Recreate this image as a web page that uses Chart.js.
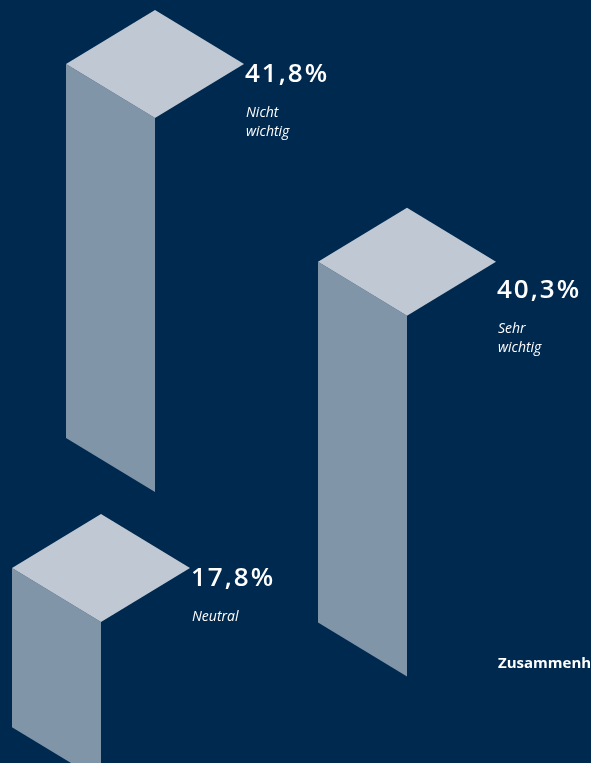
<!DOCTYPE html>
<html lang="de">
<head>
<meta charset="utf-8">
<title>Wichtigkeit</title>
<script src="https://cdn.jsdelivr.net/npm/chart.js@4.4.1/dist/chart.umd.min.js"></script>
<style>
  html, body { margin: 0; padding: 0; background: #00294f; }
  #wrap { position: relative; width: 591px; height: 763px; overflow: hidden; }
</style>
</head>
<body>
<div id="wrap"><canvas id="chart"></canvas></div>
<script>
// ---- data ----
const categories   = ['Nicht wichtig', 'Sehr wichtig', 'Neutral'];
const shares       = [41.8, 40.3, 17.8];
const valueLabels  = ['41,8%', '40,3%', '17,8%'];
const captionLines = [['Nicht', 'wichtig'], ['Sehr', 'wichtig'], ['Neutral']];
const footnote     = 'Zusammenhalt';

// ---- layout ----
const columnX     = [110.5, 362.5, 56.5];  // column centres on the x axis
const columnFloor = [36.3, 15.7, 4.0];     // floor level of each column (y axis units)
const labelDrop   = [18, 36, 18];          // value label baseline below the lid corner
const Y_MAX = 85.25;
const COLUMN_WIDTH = 89;
const LID_SLOPE = 54 / 89;

// ---- styles ----
const BG   = '#00294f';
const LID  = '#c0c9d3';
const SIDE = '#8195a9';
const TEXT = '#ffffff';
const FONT = "'Open Sans', 'DejaVu Sans', sans-serif";

const prismPlugin = {
  id: 'prisms',
  afterDatasetsDraw(chart) {
    const ctx = chart.ctx;
    const meta = chart.getDatasetMeta(0);
    ctx.save();
    meta.data.forEach((bar, i) => {
      const w = bar.width;
      const rise = w * LID_SLOPE;
      const xl = bar.x - w / 2, xm = bar.x + w / 2, xr = xm + w;
      const top = bar.y, bottom = bar.base;

      // front (lit) side
      ctx.fillStyle = SIDE;
      ctx.beginPath();
      ctx.moveTo(xl, top);
      ctx.lineTo(xm, top + rise);
      ctx.lineTo(xm, bottom + rise);
      ctx.lineTo(xl, bottom);
      ctx.closePath();
      ctx.fill();

      // lid
      ctx.fillStyle = LID;
      ctx.beginPath();
      ctx.moveTo(xl, top);
      ctx.lineTo(xm, top - rise);
      ctx.lineTo(xr, top);
      ctx.lineTo(xm, top + rise);
      ctx.closePath();
      ctx.fill();

      // labels
      const lx = xr + 1;
      const ly = top + labelDrop[i];
      ctx.fillStyle = TEXT;
      ctx.textAlign = 'left';
      ctx.textBaseline = 'alphabetic';
      ctx.font = '600 26px ' + FONT;
      ctx.letterSpacing = '2px';
      ctx.fillText(valueLabels[i], lx, ly);
      ctx.letterSpacing = '0px';
      ctx.font = 'italic 400 14px ' + FONT;
      captionLines[i].forEach((line, j) => ctx.fillText(line, lx + 1, ly + 35 + j * 19));
    });

    ctx.font = '700 15px ' + FONT;
    ctx.fillStyle = TEXT;
    ctx.fillText(footnote, 498, 668);
    ctx.restore();
  }
};

new Chart(document.getElementById('chart'), {
  type: 'bar',
  data: {
    labels: categories,
    datasets: [{
      label: 'Anteil',
      data: shares.map((v, i) => ({ x: columnX[i], y: [columnFloor[i], columnFloor[i] + v] })),
      backgroundColor: 'rgba(0,0,0,0)',
      borderWidth: 0,
      barThickness: COLUMN_WIDTH
    }]
  },
  options: {
    responsive: true,
    maintainAspectRatio: false,
    animation: false,
    layout: { padding: 0 },
    scales: {
      x: { type: 'linear', min: 0, max: 591, offset: false, bounds: 'data', display: false },
      y: { type: 'linear', min: 0, max: Y_MAX, bounds: 'data', display: false }
    },
    plugins: { legend: { display: false }, tooltip: { enabled: false } }
  },
  plugins: [prismPlugin]
});
</script>
</body>
</html>
